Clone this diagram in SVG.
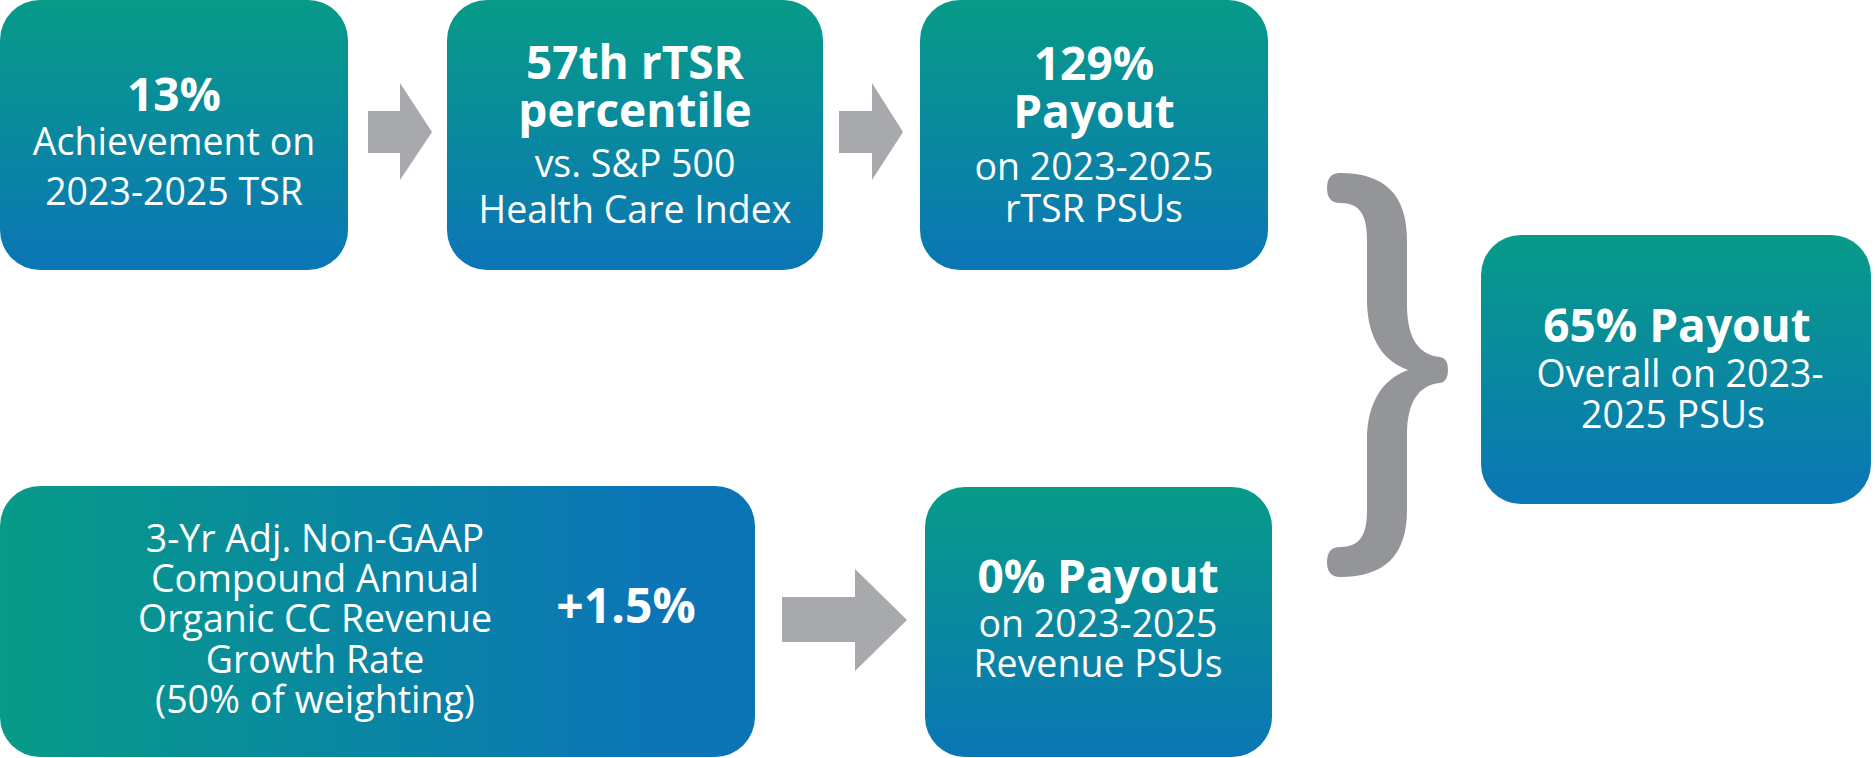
<svg xmlns="http://www.w3.org/2000/svg" width="1875" height="758" viewBox="0 0 1875 758">
  <defs>
    <linearGradient id="gv" x1="0" y1="0" x2="0" y2="1">
      <stop offset="0" stop-color="#079b88"/>
      <stop offset="1" stop-color="#0b76b6"/>
    </linearGradient>
    <linearGradient id="gh" x1="0" y1="0" x2="1" y2="0">
      <stop offset="0" stop-color="#079b88"/>
      <stop offset="0.85" stop-color="#0b76b6"/>
      <stop offset="1" stop-color="#0b74b4"/>
    </linearGradient>
    <style>
      .box { fill: url(#gv); }
      .boxh { fill: url(#gh); }
      text { fill: #ffffff; font-family: "Open Sans", "Noto Sans", "Liberation Sans", sans-serif; text-anchor: middle; font-size: 37.5px; font-weight: 400; }
      .b { font-weight: 700; font-size: 46px; }
      .r { font-weight: 400; font-size: 37.5px; }
      .arrow { fill: #a7a9ac; }
      .brace { fill: #939598; }
    </style>
  </defs>
  <rect width="1875" height="758" fill="#ffffff"/>

  <g id="connectors">
    <path class="arrow" d="M368 111 H400 V83 L432 132 L400 180 V153 H368 Z"/>
    <path class="arrow" d="M839 111 H872 V83 L903 132 L872 180 V153 H839 Z"/>
    <path class="arrow" d="M782 597 H855 V569 L907 620 L855 671 V642 H782 Z"/>
    <path class="brace" d="M1340 173 C1385 173 1407 195 1407 240 L1407 305 C1407 340 1420 355 1440 357 Q1448 358 1448 370 Q1448 382 1440 383 C1420 385 1407 400 1407 435 L1407 510 C1407 555 1385 577 1340 577 Q1327 577 1327 562 Q1327 547 1340 547 C1360 547 1367 535 1367 510 L1367 440 C1367 400 1385 378 1408 370 C1385 362 1367 340 1367 300 L1367 240 C1367 215 1360 203 1340 203 Q1327 203 1327 188 Q1327 173 1340 173 Z"/>
  </g>

  <g id="node-tsr-achievement">
    <rect class="box" x="0" y="0" width="348" height="270" rx="40"/>
    <text><tspan class="b" x="174" y="111">13%</tspan><tspan class="r" x="174" y="155">Achievement on</tspan><tspan class="r" x="174" y="205">2023-2025 TSR</tspan></text>
  </g>

  <g id="node-rtsr-percentile">
    <rect class="box" x="447" y="0" width="376" height="270" rx="40"/>
    <text><tspan class="b" x="635" y="79">57th rTSR</tspan><tspan class="b" x="635" y="127">percentile</tspan><tspan class="r" x="635" y="177">vs. S&amp;P 500</tspan><tspan class="r" x="635" y="223">Health Care Index</tspan></text>
  </g>

  <g id="node-rtsr-payout">
    <rect class="box" x="920" y="0" width="348" height="270" rx="40"/>
    <text><tspan class="b" x="1094" y="80">129%</tspan><tspan class="b" x="1094" y="128">Payout</tspan><tspan class="r" x="1094" y="180">on 2023-2025</tspan><tspan class="r" x="1094" y="222">rTSR PSUs</tspan></text>
  </g>

  <g id="node-overall-payout">
    <rect class="box" x="1481" y="235" width="390" height="269" rx="40"/>
    <text><tspan class="b" x="1677" y="342">65% Payout</tspan><tspan class="r" x="1680" y="387">Overall on 2023-</tspan><tspan class="r" x="1673" y="428">2025 PSUs</tspan></text>
  </g>

  <g id="node-revenue-growth">
    <rect class="boxh" x="0" y="486" width="755" height="271" rx="40"/>
    <text><tspan class="r" x="315" y="552">3-Yr Adj. Non-GAAP</tspan><tspan class="r" x="315" y="592">Compound Annual</tspan><tspan class="r" x="315" y="632">Organic CC Revenue</tspan><tspan class="r" x="315" y="673">Growth Rate</tspan><tspan class="r" x="315" y="713">(50% of weighting)</tspan></text>
    <text class="b" x="626" y="623" style="font-size:48px">+1.5%</text>
  </g>

  <g id="node-revenue-payout">
    <rect class="box" x="925" y="487" width="347" height="270" rx="40"/>
    <text><tspan class="b" x="1098" y="593">0% Payout</tspan><tspan class="r" x="1098" y="637">on 2023-2025</tspan><tspan class="r" x="1098" y="677">Revenue PSUs</tspan></text>
  </g>
</svg>
